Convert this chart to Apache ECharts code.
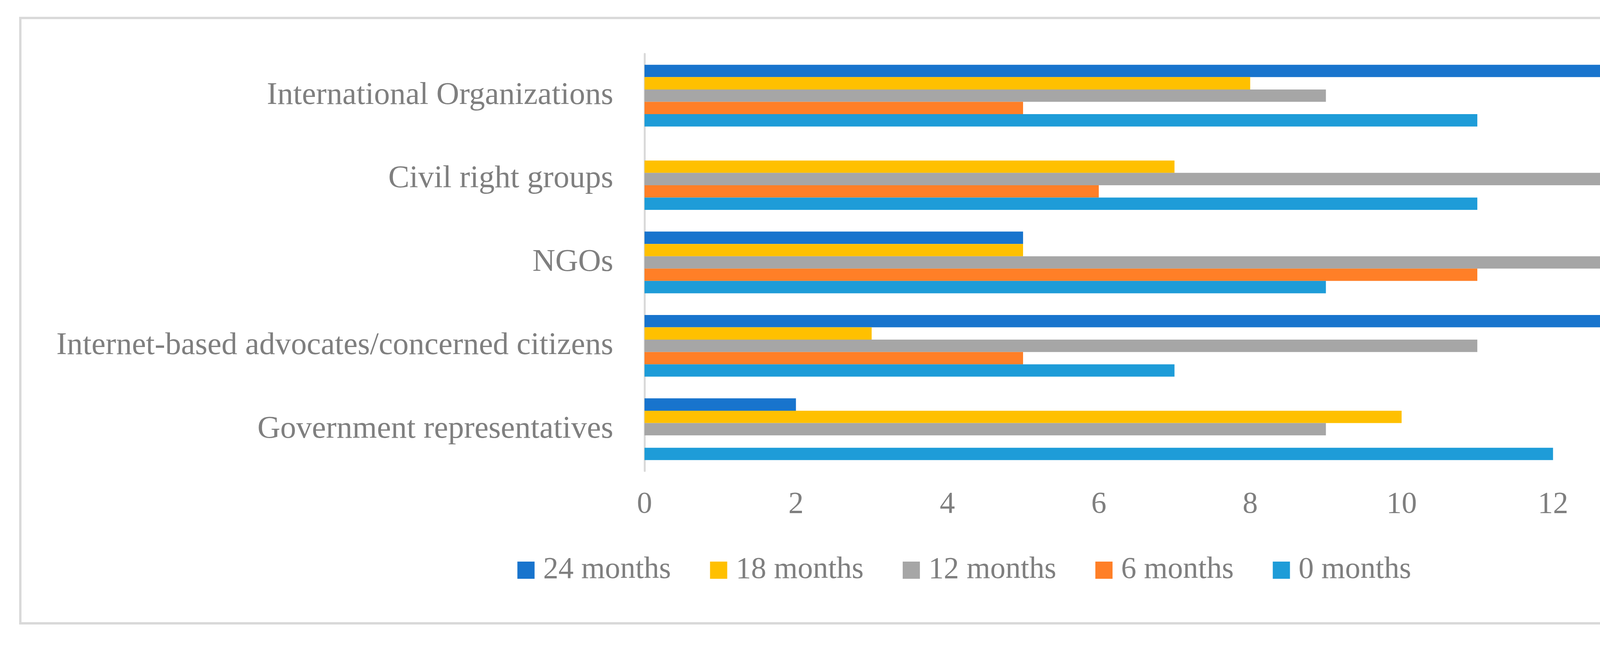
<!DOCTYPE html>
<html>
<head>
<meta charset="utf-8">
<script src="https://cdn.jsdelivr.net/npm/echarts@6/dist/echarts.min.js"></script>
<style>
html,body{margin:0;padding:0;background:#fff;}
#chart{width:4937px;height:1653px;}
</style>
</head>
<body>
<div id="chart"></div>
<script>
// Categories, bottom to top on the y axis
var categories = ['Government representatives', 'Internet-based advocates/concerned citizens', 'NGOs', 'Civil right groups', 'International Organizations'];
// Series values in the same category order
var months24 = [2, 14, 5, 0, 15];
var months18 = [10, 3, 5, 7, 8];
var months12 = [9, 11, 15, 15, 9];
var months6  = [0, 5, 11, 6, 5];
var months0  = [12, 7, 9, 11, 11];
var seriesNames = ['24 months', '18 months', '12 months', '6 months', '0 months'];
var xTicks = [0, 2, 4, 6, 8, 10, 12, 14, 16];

var colors = ['#1874CD', '#FFC000', '#A6A6A6', '#FF7F27', '#1E9CD8'];
var textColor = '#7F7F7F';
var fontFam = 'Liberation Serif';

var chart = echarts.init(document.getElementById('chart'), null, {renderer: 'canvas'});
var seriesData = [months24, months18, months12, months6, months0];
var series = seriesNames.map(function (n, i) {
  return {
    name: n,
    type: 'bar',
    data: seriesData[i],
    barGap: '0%',
    barCategoryGap: '26%',
    itemStyle: {color: colors[i]},
    emphasis: {disabled: true}
  };
});

chart.setOption({
  animation: false,
  backgroundColor: '#fff',
  graphic: [{
    type: 'rect',
    shape: {x: 52, y: 46, width: 4826, height: 1549},
    style: {fill: 'none', stroke: '#D9D9D9', lineWidth: 6},
    silent: true
  }],
  legend: {
    data: seriesNames,
    left: 'center',
    top: 1415,
    itemWidth: 44,
    itemHeight: 44,
    itemGap: 100,
    icon: 'rect',
    textStyle: {color: textColor, fontSize: 78, fontFamily: fontFam, padding: [0, 0, 0, 17]}
  },
  grid: {left: 1650, right: 186, top: 138, bottom: 448, containLabel: false},
  xAxis: {
    type: 'value',
    min: xTicks[0],
    max: xTicks[xTicks.length - 1],
    interval: 2,
    axisLine: {show: false},
    axisTick: {show: false},
    splitLine: {show: false},
    axisLabel: {color: textColor, fontSize: 78, fontFamily: fontFam, margin: 48}
  },
  yAxis: {
    type: 'category',
    data: categories,
    axisLine: {show: true, lineStyle: {color: '#D9D9D9', width: 5}},
    axisTick: {show: false},
    splitLine: {show: false},
    axisLabel: {color: textColor, fontSize: 81, fontFamily: fontFam, margin: 80}
  },
  series: series
});
</script>
</body>
</html>
